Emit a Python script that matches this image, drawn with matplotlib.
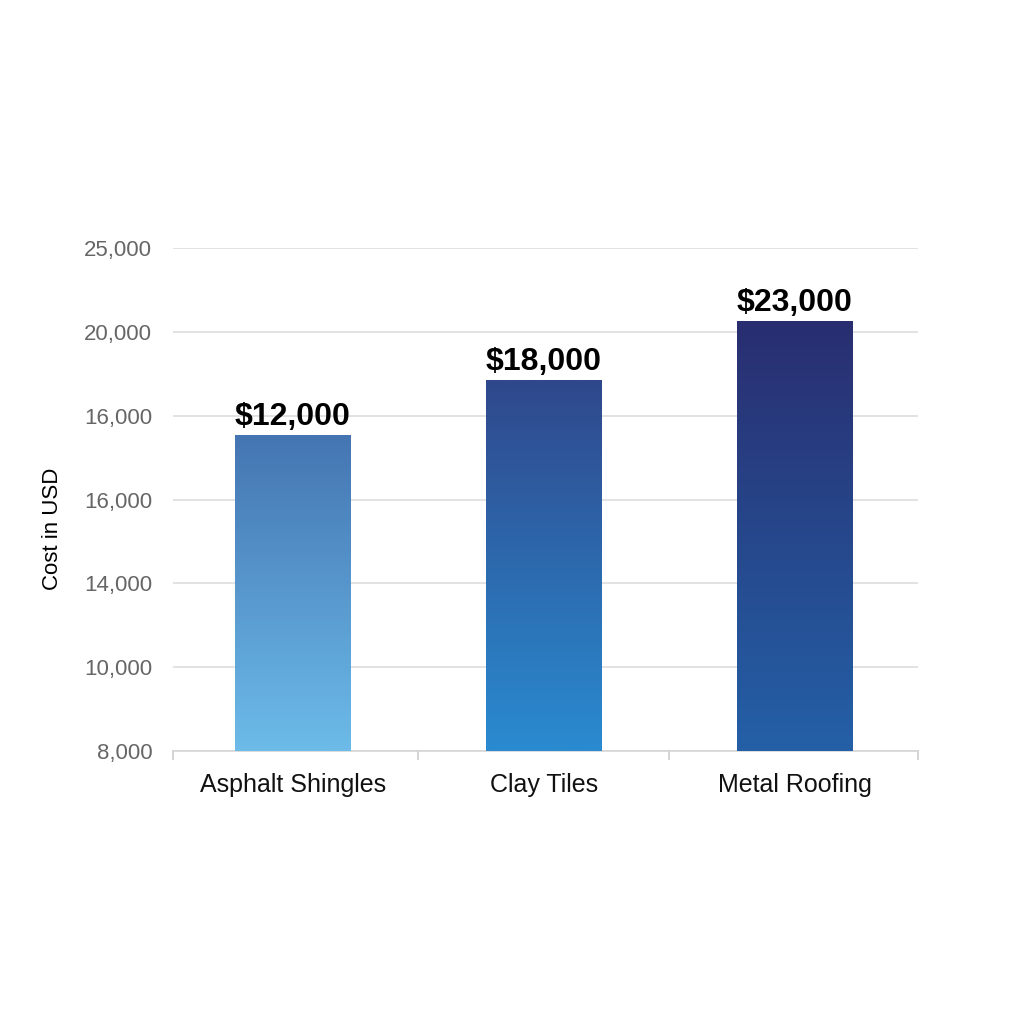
import matplotlib.pyplot as plt
import numpy as np
from matplotlib.colors import LinearSegmentedColormap

plt.rcParams['font.family'] = ['Liberation Sans', 'DejaVu Sans']

categories = ['Asphalt Shingles', 'Clay Tiles', 'Metal Roofing']
# bar heights, in gridline steps above the bottom line
bar_heights = [3.77, 4.42, 5.13]
value_labels = ['$12,000', '$18,000', '$23,000']
tick_labels = ['8,000', '10,000', '14,000', '16,000', '16,000', '20,000', '25,000']
# top / bottom colours of each bar gradient
top_colors = ['#4475b2', '#30488c', '#292e70']
bottom_colors = ['#6cbbe9', '#2a8bd0', '#2460a7']

fig = plt.figure(figsize=(10.24, 10.24), dpi=100)
ax = fig.add_axes([0.169, 0.2666, 0.727, 0.4912])

x = np.arange(len(categories))
width = 0.46
bars = ax.bar(x, bar_heights, width=width, color='none', zorder=3)

# gradient fill per bar
grad = np.linspace(0, 1, 256).reshape(-1, 1)
for i, b in enumerate(bars):
    cmap = LinearSegmentedColormap.from_list('g%d' % i, [bottom_colors[i], top_colors[i]])
    x0, y0 = b.get_x(), b.get_y()
    w, h = b.get_width(), b.get_height()
    im = ax.imshow(grad, cmap=cmap, aspect='auto', origin='lower',
                   extent=[x0, x0 + w, y0, y0 + h], zorder=3)
    im.set_clip_path(b)
    ax.text(x[i], h + 0.04, value_labels[i], ha='center', va='bottom',
            fontsize=23, fontweight='bold', color='black', zorder=4)

ax.set_xlim(-0.478, 2.49)
ax.set_ylim(0, 6)
ax.set_yticks(np.arange(len(tick_labels)))
ax.set_yticklabels(tick_labels, fontsize=16, color='#666666')
ax.tick_params(axis='y', length=0, pad=15)
ax.yaxis.grid(True, color='#dddddd', linewidth=1.2, zorder=0)
ax.set_axisbelow(True)

ax.set_xticks(x)
ax.set_xticklabels(categories, fontsize=18, color='#111111')
ax.tick_params(axis='x', length=0, pad=16)
# separator ticks under the axis line
for xt in [-0.478, 0.5, 1.5, 2.49]:
    ax.plot([xt, xt], [0, -0.1], color='#cccccc', linewidth=1.2, clip_on=False)

for s in ['top', 'right', 'left']:
    ax.spines[s].set_visible(False)
ax.spines['bottom'].set_color('#d5d5d5')
ax.spines['bottom'].set_linewidth(1.2)

fig.text(0.051, 0.484, 'Cost in USD', rotation=90, ha='center', va='center',
         fontsize=16, color='black')

fig.savefig('out.png', dpi=100, facecolor='white')
